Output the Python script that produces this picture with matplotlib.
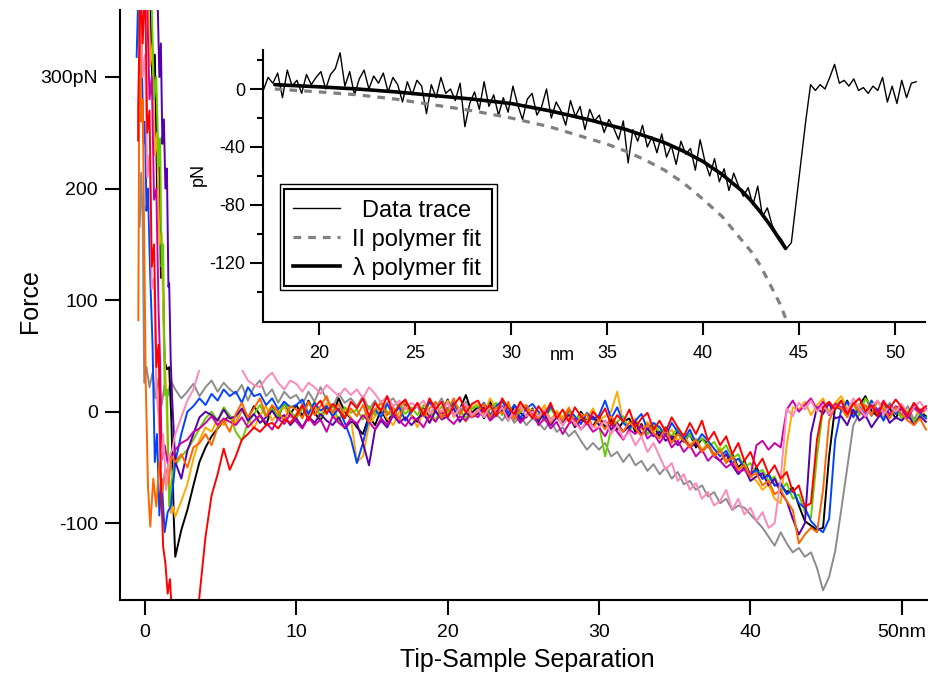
import numpy as np
import matplotlib.pyplot as plt
from matplotlib.lines import Line2D
from matplotlib.patches import Rectangle

plt.rcParams['font.family'] = ['Liberation Sans', 'DejaVu Sans']
plt.rcParams['axes.unicode_minus'] = False

# ---------------- main panel: retraction traces (pN) ----------------
# contact part read point by point, rest sampled every 0.4 nm from 2.0 nm
GRID_START = 2.0
GRID_STEP = 0.4

gray_cx = [-0.35, -0.25, -0.15, -0.05, 0.1, 0.3, 0.5, 0.7, 0.9, 1.1, 1.3, 1.5, 1.7]
gray_cy = [166, 214, 170, 26, 40, 22, 35, 12, 30, 6, 24, 14, 28]
gray_f = [
    20, 12, 18, 25, 14, 22, 28, 18, 26, 20,
    16, 24, 10, 22, 28, 14, 20, 8, 18, 12,
    15, 6, 18, 9, 22, 11, 4, 16, 8, 12,
    5, 14, 2, 10, -2, 8, 12, 3, 9, -1,
    7, -3, 10, 4, 12, 1, 6, -2, 9, 3,
    2, -5, 6, -2, -8, 0, -10, -4, -12, -6,
    -10, -16, -8, -18, -14, -22, -17, -26, -34, -28,
    -34, -28, -40, -36, -45, -38, -48, -44, -53, -47,
    -56, -50, -60, -54, -65, -62, -70, -66, -76, -72,
    -82, -78, -88, -84, -86, -92, -98, -104, -112, -120,
    -108, -118, -126, -122, -130, -126, -140, -160, -148, -125,
    -88, -50, -12, -2, 6, -4, 3, -6, 8, 0,
    -3, 5, -7, 2, -5]

black_cx = [0.3, 0.5, 0.65, 0.8, 0.95, 1.05, 1.15, 1.3, 1.45, 1.6, 1.75, 1.9]
black_cy = [390, 290, 320, 200, 230, 120, 140, 45, 38, 40, -10, -94]
black_f = [
    -130, -106, -88, -66, -45, -32, -22, -15, -8, -4,
    -10, 2, -6, 5, -3, -12, 4, -5, 8, -2,
    6, -4, 10, -1, -8, 5, -3, 12, 0, -6,
    -14, -20, -4, -12, 2, -9, -1, -7, 6, -3,
    -9, 3, -5, 8, -2, 11, -4, 2, 15, -1,
    4, -6, 9, -3, 2, -8, 6, -1, -5, 3,
    -9, 1, -7, -2, -12, -3, -10, 0, -8, -13,
    -4, -14, -7, -16, -9, -6, -18, -11, -20, -13,
    -22, -14, -25, -18, -27, -20, -32, -24, -29, -38,
    -33, -44, -38, -50, -44, -57, -50, -60, -56, -66,
    -66, -72, -68, -84, -98, -102, -106, -104, -40, 5,
    2, 10, -3, 6, 14, 1, -4, 8, 3, -6,
    5, -2, 7, 0, -4]

orange_cx = [0.2, 0.35, 0.5, 0.65, 0.8, 0.95, 1.1, 1.25, 1.4, 1.55, 1.7, 1.85]
orange_cy = [390, 310, 330, 230, 250, 150, 160, 60, 20, -60, -91, -85]
orange_f = [
    -94, -80, -65, -42, -25, -14, -18, -6, -12, -4,
    -10, 2, -6, -15, -3, 5, -8, -1, 4, -5,
    -2, 6, -7, 3, -4, 8, -1, -9, 2, -5,
    -45, -40, -12, -4, 3, -6, -12, 0, 5, -3,
    -14, 2, -8, 6, -3, 10, -5, 1, -9, 4,
    7, -2, 12, 3, 8, 5, -4, 8, 1, 2,
    -3, 6, -8, 1, -5, 4, -10, -2, -6, 3,
    -8, -4, 0, 18, -10, -14, -6, -16, -9, -18,
    -13, -22, -16, -26, -20, -30, -24, -34, -28, -38,
    -32, -44, -40, -52, -46, -58, -62, -70, -65, -78,
    -82, -30, 4, 2, 9, -3, 6, 12, 0, 8,
    14, 3, -4, 7, 1, 10, -2, 5, -5, 3,
    6, -1, 4, -4, 2]

green_cx = [0.4, 0.6, 0.75, 0.9, 1.0, 1.1, 1.2, 1.3, 1.45, 1.6, 1.75, 1.9]
green_cy = [390, 280, 300, 220, 245, 130, 150, 15, 20, -85, -62, -50]
green_f = [
    -48, -40, -34, -25, -15, -6, 0, -8, 4, -3,
    -18, -26, -10, -2, 6, -5, 3, -4, 8, 0,
    -6, 3, -2, 9, -5, 1, 6, -8, 4, -1,
    2, -7, 5, -3, 10, 0, -5, 7, -2, 4,
    -3, 6, 1, -8, 5, -1, 9, 2, -6, 3,
    5, -4, 2, 8, -3, 6, -7, 0, 4, -2,
    -2, -8, 3, -5, -12, 0, -7, -3, -10, -5,
    -12, -40, -15, -9, -4, -17, -10, -14, -20, -12,
    -18, -16, -22, -14, -26, -20, -28, -24, -32, -27,
    -36, -30, -42, -38, -50, -46, -56, -52, -62, -58,
    -70, -64, -78, -74, -90, -95, -40, 3, -2, 6,
    10, 2, 7, -3, 12, 5, -1, 8, -4, 2,
    -6, 1, -9, -3, -5]

blue_cx = [-0.55, -0.45, -0.35, -0.25, -0.1, 0.0, 0.1, 0.2, 0.35, 0.5, 0.65, 0.8,
           0.95, 1.1, 1.3, 1.5, 1.7, 1.9]
blue_cy = [318, 370, 330, 340, 240, 260, 180, 200, 120, 60, -45, -20,
           -93, -60, -108, -90, -85, -60]
blue_f = [
    -45, -20, 0, 5, 12, 6, 16, 10, 20, 14,
    18, 8, 22, 14, 16, 6, 12, 2, 9, 4,
    6, 11, -2, 8, 1, 5, -4, 3, -10, -24,
    -46, -28, -6, 2, -5, 7, -3, 4, -8, 1,
    5, -4, 9, 0, -6, 3, 8, -2, 6, -5,
    2, 8, -3, 5, 10, -1, 6, -6, 3, 7,
    0, -6, 5, -3, -9, 2, -4, -11, -1, -7,
    -3, 10, -6, 4, -10, -15, -8, -2, -16, -10,
    -14, -22, -10, -18, -25, -16, -28, -20, -26, -33,
    -40, -35, -46, -42, -50, -56, -52, -60, -57, -66,
    -64, -74, -70, -82, -86, -98, -104, -108, -96, -25,
    2, 9, -5, 4, -3, 10, 1, -8, 6, -2,
    3, -4, 7, -1, -6]

indigo_cx = [0.8, 0.95, 1.05, 1.15, 1.25, 1.35, 1.45, 1.55, 1.6, 1.7, 1.8, 1.9]
indigo_cy = [390, 300, 330, 240, 262, 200, 218, 112, 115, 46, 10, -17]
indigo_f = [
    -45, -60, -35, -20, -5, 0, -3, -8, 2, -6,
    -4, 3, -8, -2, -10, -5, 1, -7, -3, -12,
    -6, -14, -4, -10, -2, -8, -12, -5, -15, -9,
    -10, -28, -48, -16, -8, -14, -3, -10, -5, -12,
    -6, -2, -10, 1, -7, -4, 3, -9, -1, -5,
    -2, 4, -6, 0, 5, -4, 2, -8, -3, 1,
    -8, -2, -12, -5, -9, -3, -14, -7, -10, -4,
    -12, -8, -16, -10, -18, -13, -9, -20, -15, -22,
    -18, -26, -22, -30, -24, -32, -28, -36, -30, -40,
    -44, -38, -48, -56, -50, -62, -58, -55, -66, -60,
    -72, -80, -96, -110, -100, -20, 4, -2, 8, -6,
    -4, -12, 2, -8, -3, -14, -6, 1, -10, -5,
    -8, -2, -12, -4, -9]

magenta_cx = [0.1, 0.3, 0.45, 0.6, 0.75, 0.9, 1.0, 1.1, 1.3, 1.5, 1.7, 1.9]
magenta_cy = [390, 280, 300, 190, 200, 90, 45, -43, -30, -46, -40, -38]
magenta_f = [
    -34, -28, -25, -18, -15, -10, -4, -12, -6, -9,
    -12, -5, -14, -8, -3, -10, -16, -6, -11, -2,
    -9, -15, -5, -12, -7, -18, -4, -10, -14, -6,
    -11, -3, -9, -16, -6, -12, -2, -8, -13, -5,
    -7, -14, -3, -9, 0, -6, -11, -4, -8, -1,
    -5, 2, -8, -3, 4, -7, -1, -10, -4, 0,
    -12, -6, -15, -9, -20, -11, -6, -16, -10, -18,
    -14, -22, -11, -18, -25, -16, -20, -12, -24, -19,
    -28, -20, -32, -26, -36, -30, -40, -34, -44, -38,
    -44, -50, -46, -54, -52, -58, -30, -26, -34, -28,
    -32, 2, 10, 0, 6, 12, 2, 9, -3, 7,
    4, -2, 8, 1, -5, 6, 0, 10, -3, 5,
    2, -6, 4, -1, 3]

ored_cx = [-0.44, -0.35, -0.25, -0.15, -0.05, 0.05, 0.2, 0.35, 0.55, 0.75, 0.95,
           1.15, 1.35, 1.55, 1.75]
ored_cy = [82, 380, 260, 280, 150, 26, -67, -103, -60, -85, -45,
           -72, -50, -65, -40]
ored_f = [
    -45, -38, -50, -32, -28, -20, -30, -14, -8, -18,
    -2, 8, -5, 3, 12, -4, 6, 0, -8, 5,
    2, -6, 9, -3, 5, 14, -1, 7, -5, 3,
    -4, 6, -9, 2, 8, -3, 4, -7, 10, 1,
    6, -4, 3, 9, -6, 2, 12, -2, 5, -5,
    1, 7, -5, 4, -2, 9, -7, 3, 6, -3,
    -6, 2, -10, -1, -8, 3, -12, -5, -2, -14,
    -7, -16, -4, -12, -18, -9, -15, -22, -11, -19,
    -24, -15, -28, -20, -26, -32, -25, -36, -30, -40,
    -35, -46, -40, -52, -48, -58, -55, -66, -62, -74,
    -70, -80, -88, -118, -110, -104, -108, -70, -8, 5,
    3, -5, 8, 0, 6, -3, 10, 2, -6, 4,
    -2, -8, -12, -6, -16]

pink_cx = [-0.3, -0.15, 0.0, 0.15, 0.3, 0.45, 0.6, 0.75, 0.9, 1.05, 1.2, 1.4, 1.6, 1.8]
pink_cy = [390, 300, 320, 210, 230, 110, 120, 20, -5, -50, -20, -70, -40, -34]
pink_f = [
    -20, -5, 10, 20, 38, 45, 40, 48, 42, 50,
    44, 38, 28, 24, 22, 30, 35, 26, 20, 28,
    25, 18, 26, 22, 16, 24, 19, 14, 21, 15,
    20, 12, 22, 16, 8, 14, 5, 10, 2, 8,
    4, 10, -2, 6, 0, 8, -4, 3, 7, -3,
    2, -5, 6, -2, 4, -8, 1, 5, -4, 0,
    -4, 2, -8, -3, -12, -5, -10, -16, -8, -14,
    -14, -8, -20, -12, -24, -18, -30, -22, -36, -28,
    -40, -52, -46, -62, -56, -70, -64, -78, -72, -84,
    -80, -70, -88, -78, -92, -86, -98, -90, -104, -100,
    -60, 3, -4, 8, 2, 10, 0, 6, -2, 4,
    8, 1, 12, 3, -4, 6, 10, -2, 5, 0,
    7, -3, 4, 9, 1]

red_cx = [-0.45, -0.45, -0.3, -0.15, 0.0, 0.15, 0.3, 0.45, 0.6, 0.75, 0.9, 1.05,
          1.2, 1.35, 1.5, 1.65, 1.8]
red_cy = [243, 273, 380, 330, 390, 250, 270, 130, 150, 40, 60, -60,
          -121, -136, -163, -150, -185]
red_f = [
    -215, -250, -260, -230, -165, -112, -75, -56, -33, -52,
    -40, -25, -20, -14, -18, -12, -10, -15, -7, -10,
    -3, 6, -8, 4, 10, -2, 7, 1, -6, 9,
    3, 12, -4, 8, 1, 14, -2, 6, 11, 0,
    8, -3, 12, 2, 9, -5, 6, 13, -1, 7,
    10, 0, 6, -4, 12, 3, -2, 9, 1, -6,
    5, -3, 8, -6, 2, -9, 4, -4, -11, 0,
    -6, 3, -12, -3, -9, 2, -14, -6, -1, -16,
    -8, -18, -5, -14, -22, -10, -20, -8, -26, -18,
    -30, -22, -38, -28, -44, -36, -50, -42, -56, -48,
    -60, -54, -72, -66, -85, -82, -25, 4, 9, 2,
    10, -2, 7, 12, 0, 6, -4, 9, 3, 11,
    4, -3, 8, 1, 5]

traces = [
    ('#8c8c8c', gray_cx, gray_cy, gray_f),
    ('#000000', black_cx, black_cy, black_f),
    ('#ffaa00', orange_cx, orange_cy, orange_f),
    ('#66cc00', green_cx, green_cy, green_f),
    ('#0044ff', blue_cx, blue_cy, blue_f),
    ('#5500aa', indigo_cx, indigo_cy, indigo_f),
    ('#cc00aa', magenta_cx, magenta_cy, magenta_f),
    ('#ff6600', ored_cx, ored_cy, ored_f),
    ('#ff88bb', pink_cx, pink_cy, pink_f),
    ('#ff0000', red_cx, red_cy, red_f),
]

# ---------------- inset: one trace + two fits ----------------
INSET_START = 17.1
INSET_STEP = 0.25
inset_f = [
    -1, 8, 4, 11, -6, 13, 2, 6, -3, 10,
    3, 8, 12, 0, 10, 14, 25, 2, 12, -4,
    7, 13, 0, 9, 4, 11, -2, 8, 3, -9,
    5, -4, 6, 2, -17, 3, -6, 8, -3, 0,
    -8, 4, -26, -10, -2, -14, 5, -12, -4, -18,
    -6, -16, 2, -11, -21, -7, -3, -18, -12, 0,
    -20, -9, -15, -25, -8, -19, -12, -28, -14, -22,
    -18, -30, -21, -27, -35, -22, -51, -28, -36, -25,
    -40, -33, -44, -31, -47, -39, -52, -36, -45, -41,
    -56, -35, -50, -60, -48, -64, -55, -70, -58, -67,
    -74, -68, -80, -67, -88, -82, -94, -100, -104, -110,
    -106, -78, -50, -22, 3, -1, 3, 0, 8, 17,
    4, 6, 2, 7, -1, 1, -3, 2, -1, 8,
    -9, 2, -10, 6, -6, 4, 5]

lam_x = [17.7, 20, 22, 24, 26, 28, 30, 32, 34, 36, 38, 39, 40, 41, 42, 42.5, 43, 43.5, 44, 44.3]
lam_f = [3, 1.5, 0, -2, -4.5, -7, -10, -15, -21, -28, -37, -43, -50, -59, -70, -77, -85, -94, -104, -110]

ii_x = [17.7, 20, 22, 24, 26, 28, 30, 32, 34, 35, 36, 37, 38, 39, 40, 41, 42, 42.5, 43, 43.5, 44, 44.3]
ii_f = [0, -2, -4, -7, -11, -15, -20, -26, -34, -38, -43, -49, -56, -65, -76, -88, -104, -112, -122, -135, -148, -158]

W, H = 929, 675
fig = plt.figure(figsize=(W / 100, H / 100), dpi=100)


def fx(px):
    return px / W


def fy(py):
    return 1 - py / H


# main axes
ax = fig.add_axes([fx(120), fy(600), fx(929) - fx(120), fy(10) - fy(600)])
for color, cx, cy, f in traces:
    gx = GRID_START + GRID_STEP * np.arange(len(f))
    x = np.concatenate([cx, gx])
    y = np.concatenate([cy, f])
    ax.plot(x, y, color=color, lw=1.4)

ax.set_xlim(-1.65, 51.8)
ax.set_ylim(-168.7, 360)
for s in ['top', 'right']:
    ax.spines[s].set_visible(False)
for s in ['left', 'bottom']:
    ax.spines[s].set_linewidth(1.5)
ax.set_xticks([0, 10, 20, 30, 40, 50])
ax.set_xticklabels(['0', '10', '20', '30', '40', '50nm'])
ax.set_yticks([-100, 0, 100, 200, 300])
ax.set_yticklabels(['-100', '0', '100', '200', '300pN'])
ax.tick_params(direction='out', length=11, width=1.5, labelsize=14)
ax.tick_params(axis='x', pad=6)
ax.tick_params(axis='y', pad=5)
ax.set_xlabel('Tip-Sample Separation', fontsize=18)
ax.xaxis.set_label_coords(0.503, -0.081)
ax.set_ylabel('Force', fontsize=18)
ax.yaxis.set_label_coords(-0.096, 0.507)

# the inset's panel hides the traces behind it
ax.add_patch(Rectangle((fx(188), fy(370)), 1 - fx(188), 1 - fy(370),
                       transform=fig.transFigure, facecolor='white',
                       edgecolor='none', zorder=5, clip_on=False))

# inset axes
ins = fig.add_axes([fx(262.7), fy(322), fx(925) - fx(262.7), fy(50) - fy(322)])
ix = INSET_START + INSET_STEP * np.arange(len(inset_f))
ins.plot(ix, inset_f, color='black', lw=1.0)
ins.plot(ii_x, ii_f, color='#808080', lw=2.3, linestyle=(0, (2.4, 2.2)))
ins.plot(lam_x, lam_f, color='black', lw=2.6, solid_capstyle='round')
ins.set_xlim(17.07, 51.56)
ins.set_ylim(-160.7, 26.9)
for s in ['top', 'right']:
    ins.spines[s].set_visible(False)
for s in ['left', 'bottom']:
    ins.spines[s].set_linewidth(1.5)
ins.set_xticks([20, 25, 30, 35, 40, 45, 50])
ins.set_yticks([-120, -80, -40, 0])
ins.set_yticks([-140, -100, -60, -20, 20], minor=True)
ins.tick_params(which='major', direction='out', length=9.5, width=1.5, labelsize=13)
ins.tick_params(which='minor', direction='out', length=4, width=1.5)
ins.tick_params(axis='x', pad=7)
ins.tick_params(axis='y', pad=3)
ins.text(0.452, -0.14, 'nm', transform=ins.transAxes, ha='center',
         va='baseline', fontsize=13)
ins.text(-0.0977, 0.544, 'pN', transform=ins.transAxes, ha='center',
         va='center', rotation=90, fontsize=13)

# legend with double frame, drawn by hand
fig.add_artist(Rectangle((fx(280), fy(290)), fx(497) - fx(280), fy(184) - fy(290),
                         transform=fig.transFigure, facecolor='white',
                         edgecolor='black', lw=1.0, zorder=10))
fig.add_artist(Rectangle((fx(284.5), fy(285.5)), fx(492.5) - fx(284.5), fy(188.5) - fy(285.5),
                         transform=fig.transFigure, facecolor='none',
                         edgecolor='black', lw=1.5, zorder=11))
legend_rows = [
    ('Data trace', dict(color='black', lw=1.0)),
    ('II polymer fit', dict(color='#808080', lw=2.3, linestyle=(0, (2.4, 2.2)))),
    ('\u03bb polymer fit', dict(color='black', lw=2.6)),
]
for i, (label, style) in enumerate(legend_rows):
    yc = 208 + 29 * i
    fig.add_artist(Line2D([fx(293), fx(340)], [fy(yc), fy(yc)],
                          transform=fig.transFigure, zorder=12, **style))
    fig.text(fx(417), fy(yc + 9), label, ha='center', va='baseline',
             fontsize=17, zorder=12)

fig.savefig('out.png', dpi=100)
